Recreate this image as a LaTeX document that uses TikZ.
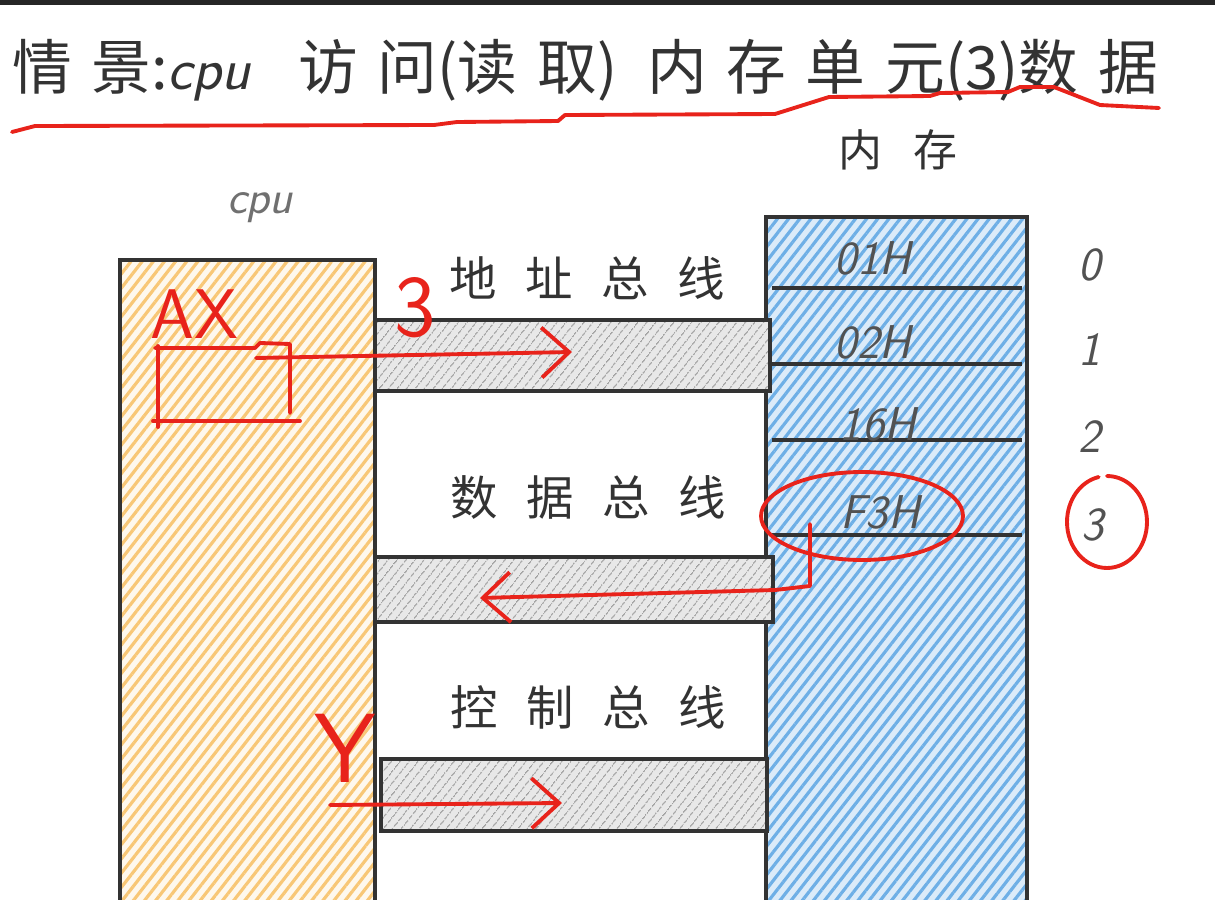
\documentclass[tikz,border=0pt]{standalone}
\usepackage{fontspec}
\newfontfamily\cjk{Noto Sans CJK SC}
\usetikzlibrary{patterns.meta, arrows.meta}
\definecolor{inkgray}{HTML}{333333}
\definecolor{penred}{HTML}{E8231B}
\definecolor{cpuorange}{HTML}{F5B548}
\definecolor{memblue}{HTML}{4A9BE0}
\newcommand{\wordgap}[1]{\spaceskip #1\relax}
\tikzset{
  box/.style={draw=inkgray, line width=1.8pt, anchor=north west, inner sep=0pt, outer sep=0pt},
  penline/.style={draw=penred, line width=2.2pt, line cap=round, line join=round},
  penarrow/.style={penline, -{Straight Barb[length=0.55cm, width=1.0cm, line width=2.2pt]}}
}

\begin{document}
\begin{tikzpicture}[x=0.02cm, y=-0.02cm,
        cpubox/.style={box, preaction={fill=cpuorange!10}, pattern={Lines[angle=52, distance=5pt, line width=1.8pt]}, pattern color=cpuorange!75},
        membox/.style={box, preaction={fill=memblue!20}, pattern={Lines[angle=52, distance=5pt, line width=1.8pt]}, pattern color=memblue!80},
        busbox/.style={box, preaction={fill=gray!18}, pattern={Lines[angle=52, distance=4pt, line width=0.8pt]}, pattern color=gray!75},
        rowline/.style={draw=inkgray, line width=1.8pt},
        titletext/.style={text=inkgray, font=\cjk\fontsize{34}{34}\selectfont\wordgap{0.33em}},
        buslabel/.style={text=inkgray, font=\cjk\fontsize{27}{27}\selectfont\wordgap{0.6em}},
        celltext/.style={text=inkgray!85, font=\sffamily\itshape\fontsize{27}{27}\selectfont},
        idxtext/.style={text=inkgray!85, font=\sffamily\itshape\fontsize{27}{27}\selectfont},
        pentext/.style={text=penred, font=\sffamily\fontsize{40}{40}\selectfont}]

        \clip (0,0) rectangle (1215,900);

        % === TITULO ===
        \draw [line width=3pt, black!85] (0,2) -- (1215,2);
        \node (title) [titletext] at (585,70) {情 景:{\sffamily\itshape cpu}\hspace{0.8em}访 问(读 取)\hspace{0.5em}内 存 单 元(3)数 据};
        \draw [penline] (12,132) -- (35,126) -- (434,125) -- (457,122) -- (558,121) -- (565,115) -- (775,114) -- (829,97) -- (930,96) -- (940,93) -- (1008,92) -- (1020,87) -- (1054,87) -- (1100,105) -- (1159,108);

        % === CPU y MEMORIA ===
        \node (cputitle) [text=inkgray!70, font=\sffamily\itshape\fontsize{27}{27}\selectfont] at (260,208) {cpu};
        \node (memtitle) [text=inkgray, font=\cjk\fontsize{25}{25}\selectfont\wordgap{0.7em}] at (898,150) {内 存};
        \node (cpu) [cpubox, minimum width=5.1cm, minimum height=13cm] at (120,260) {};
        \node (mem) [membox, minimum width=5.22cm, minimum height=13.9cm] at (766,217) {};
        \foreach \ry in {288,364,440,535}
            \draw [rowline] (772,\ry) -- (1022,\ry);

        \node (cell0) [celltext] at (873,258) {01H};
        \node (cell1) [celltext] at (873,342) {02H};
        \node (cell2) [celltext] at (878,424) {16H};
        \node (cell3) [celltext] at (880,512) {F3H};
        \node (idx0) [idxtext] at (1090,265) {0};
        \node (idx1) [idxtext] at (1090,350) {1};
        \node (idx2) [idxtext] at (1090,437) {2};
        \node (idx3) [idxtext] at (1093,525) {3};

        % === BUSES ===
        \node (addrbus) [busbox, minimum width=7.9cm, minimum height=1.42cm] at (375,320) {};
        \node (databus) [busbox, minimum width=7.96cm, minimum height=1.3cm] at (375,557) {};
        \node (ctrlbus) [busbox, minimum width=7.72cm, minimum height=1.44cm] at (381,759) {};
        \node (addrlabel) [buslabel] at (587,278) {地 址 总 线};
        \node (datalabel) [buslabel] at (588,497) {数 据 总 线};
        \node (ctrllabel) [buslabel] at (588,707) {控 制 总 线};

        % === ANOTACIONES ROJAS ===
        \node (axlabel) [pentext] at (194,314) {AX};
        \draw [penline] (155,348) -- (255,348) -- (260,343) -- (290,344) -- (290,413);
        \draw [penline] (158,346) -- (158,427);
        \draw [penline] (153,421) -- (300,421);
        \node (addrval) [pentext, font=\sffamily\fontsize{50}{50}\selectfont] at (415,308) {3};
        \coordinate (axout) at (256,358);
        \coordinate (addrtip) at (572,352);
        \draw [penarrow] (axout) -- (addrtip);

        \draw [penline] (862,516) ellipse [x radius=2.02cm, y radius=0.88cm];
        \draw [penline] (1107,476) arc [start angle=90, end angle=-258, x radius=0.8cm, y radius=0.92cm];
        \coordinate (f3hout) at (810,524);
        \coordinate (datatip) at (480,598);
        \draw [penarrow] (f3hout) -- (810,586) -- (775,590) -- (datatip);

        \node (ctrlsig) [pentext, font=\sffamily\fontsize{56}{56}\selectfont] at (345,748) {Y};
        \coordinate (ysrc) at (330,805);
        \coordinate (ctrltip) at (562,803);
        \draw [penarrow] (ysrc) -- (ctrltip);

    \end{tikzpicture}
\end{document}
